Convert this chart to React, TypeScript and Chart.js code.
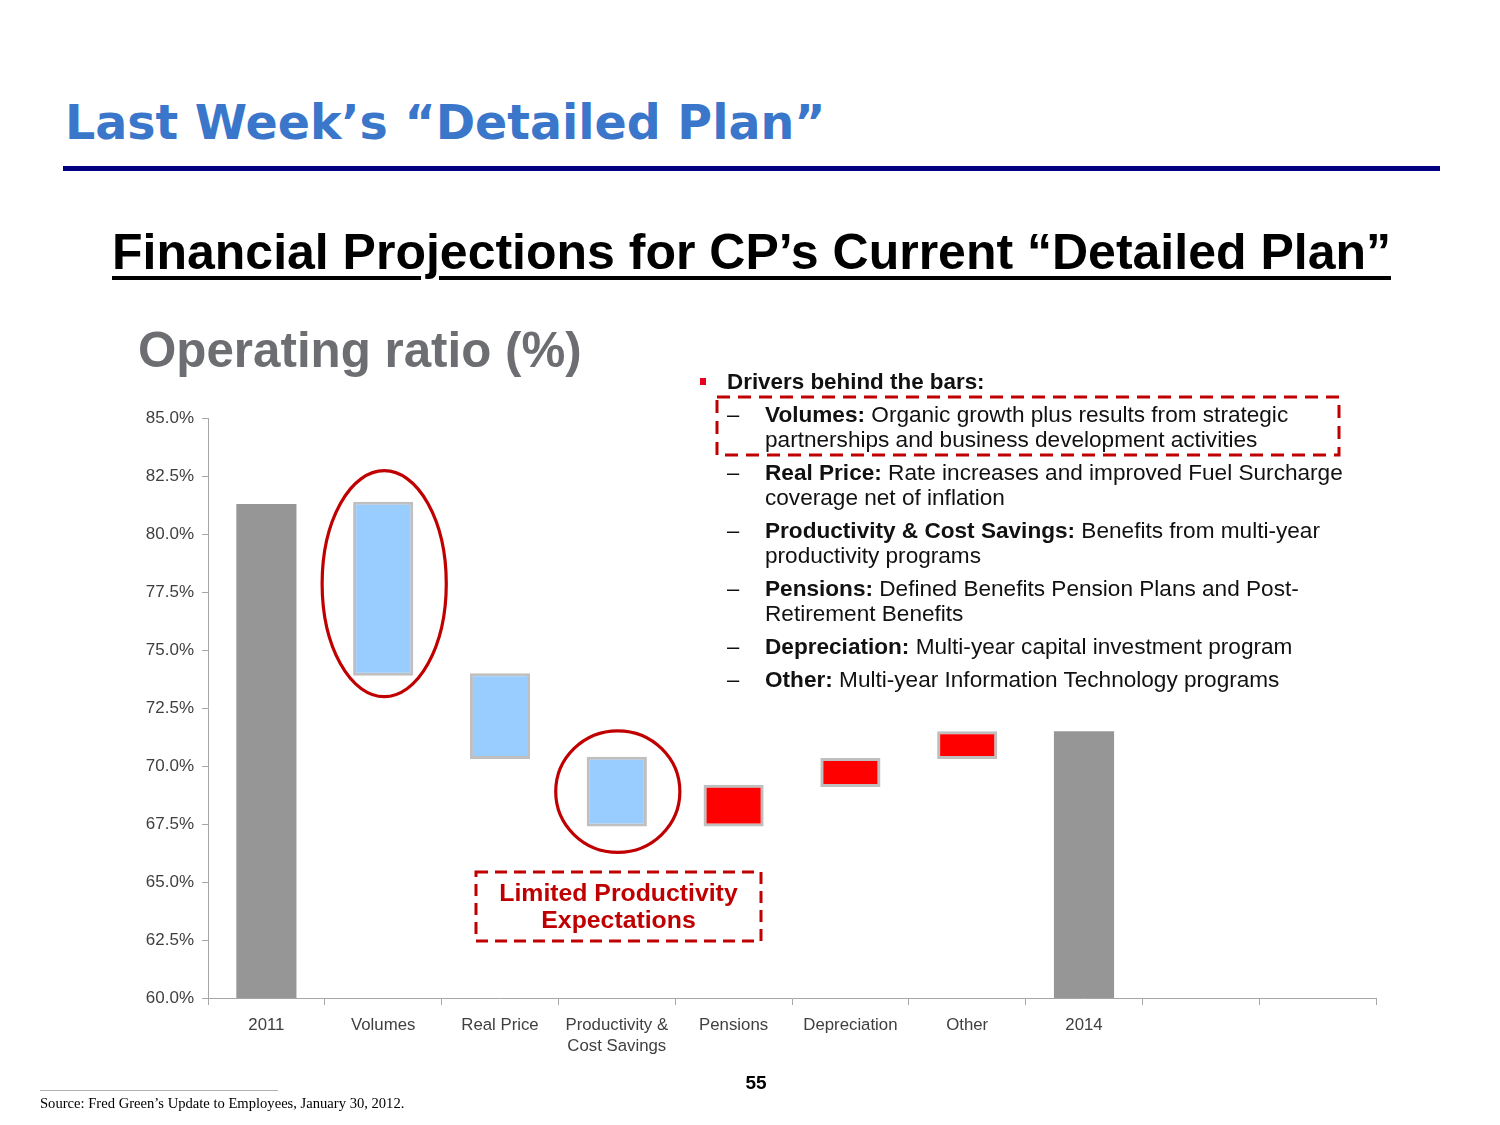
import React, { useEffect, useRef } from "react";
import { Chart, registerables } from "chart.js";

Chart.register(...registerables);

// ---- data ----
const categories: (string | string[])[] = [
  "2011",
  "Volumes",
  "Real Price",
  ["Productivity &", "Cost Savings"],
  "Pensions",
  "Depreciation",
  "Other",
  "2014",
  "",
  "",
];
const barLows: (number | null)[] = [60, 73.9, 70.3, 67.4, 67.4, 69.1, 70.3, 60, null, null];
const barHighs: (number | null)[] = [81.3, 81.4, 74.0, 70.4, 69.2, 70.35, 71.5, 71.5, null, null];
const barKinds: string[] = ["total", "down", "down", "down", "up", "up", "up", "total", "none", "none"];
const yTicksMin = 60;
const yTicksMax = 85;
const yTickStep = 2.5;
const circledCategories: number[] = [1, 3];

const FILL: Record<string, string> = {
  total: "#969696",
  down: "#99CCFF",
  up: "#FF0000",
  none: "rgba(0,0,0,0)",
};

const ellipsePlugin = {
  id: "ellipses",
  afterDatasetsDraw(chart: any) {
    const meta = chart.getDatasetMeta(0);
    const ctx = chart.ctx;
    ctx.save();
    ctx.strokeStyle = "#C00000";
    ctx.lineWidth = 3.2;
    circledCategories.forEach((i) => {
      const el = meta.data[i];
      if (!el) return;
      const p = el.getProps(["x", "y", "base", "width"], true);
      const top = Math.min(p.y, p.base);
      const bot = Math.max(p.y, p.base);
      const cy = (top + bot) / 2 - (i === 1 ? 5 : 0);
      const rx = p.width / 2 + 32;
      const ry = (bot - top) / 2 + 26;
      ctx.beginPath();
      ctx.ellipse(p.x + 1, cy, rx, ry, 0, 0, Math.PI * 2);
      ctx.stroke();
    });
    ctx.restore();
  },
};

function WaterfallChart() {
  const ref = useRef<HTMLCanvasElement | null>(null);
  useEffect(() => {
    if (!ref.current) return;
    const data = barLows.map((lo, i) =>
      lo === null || barHighs[i] === null ? null : [lo, barHighs[i] as number]
    );
    const axisColor = "#A6A6A6";
    const chart = new Chart(ref.current, {
      type: "bar",
      data: {
        labels: categories as any,
        datasets: [
          {
            data: data as any,
            backgroundColor: barKinds.map((k) => FILL[k]),
            borderColor: barKinds.map((k) => (k === "total" || k === "none" ? "rgba(0,0,0,0)" : "#BFBFBF")),
            borderWidth: barKinds.map((k) => (k === "total" || k === "none" ? 0 : 3)),
            borderSkipped: false,
            categoryPercentage: 1,
            barPercentage: 0.515,
          },
        ],
      },
      options: {
        animation: false,
        responsive: false,
        maintainAspectRatio: false,
        layout: { padding: { top: 17, right: 14, left: 0, bottom: 0 } },
        plugins: { legend: { display: false }, tooltip: { enabled: false }, title: { display: false } },
        scales: {
          x: {
            grid: { drawOnChartArea: false, drawTicks: true, tickLength: 7, color: axisColor, offset: true },
            border: { color: axisColor, width: 1 },
            ticks: {
              color: "#404040",
              font: { family: "'Liberation Sans', Arial, sans-serif", size: 16.8, lineHeight: 1.3 },
              padding: 9,
              maxRotation: 0,
              autoSkip: false,
            },
            afterFit: (s: any) => {
              s.height = 82;
            },
          },
          y: {
            min: yTicksMin,
            max: yTicksMax,
            grid: { drawOnChartArea: false, drawTicks: true, tickLength: 6, color: axisColor },
            border: { color: axisColor, width: 1 },
            ticks: {
              stepSize: yTickStep,
              color: "#404040",
              font: { family: "'Liberation Sans', Arial, sans-serif", size: 17 },
              padding: 8,
              callback: (v: any) => Number(v).toFixed(1) + "%",
            },
            afterFit: (s: any) => {
              s.width = 78;
            },
          },
        },
      } as any,
      plugins: [ellipsePlugin],
    });
    return () => chart.destroy();
  }, []);
  return (
    <canvas
      ref={ref}
      width={1260}
      height={680}
      style={{ position: "absolute", left: 130, top: 400, width: 1260, height: 680 }}
    />
  );
}

const drivers: { head: string; lines: string[]; top: number }[] = [
  { head: "Volumes:", lines: [" Organic growth plus results from strategic", "partnerships and business development activities"], top: 415 },
  { head: "Real Price:", lines: [" Rate increases and improved Fuel Surcharge", "coverage net of inflation"], top: 473 },
  { head: "Productivity & Cost Savings:", lines: [" Benefits from multi-year", "productivity programs"], top: 531 },
  { head: "Pensions:", lines: [" Defined Benefits Pension Plans and Post-", "Retirement Benefits"], top: 589 },
  { head: "Depreciation:", lines: [" Multi-year capital investment program"], top: 647 },
  { head: "Other:", lines: [" Multi-year Information Technology programs"], top: 680 },
];

const SANS = "'Liberation Sans', Arial, sans-serif";

export default function App() {
  return (
    <div
      style={{
        position: "absolute",
        left: 0,
        top: 0,
        width: 1500,
        height: 1125,
        background: "#fff",
        overflow: "hidden",
        fontFamily: SANS,
      }}
    >
      {/* Title */}
      <div
        style={{
          position: "absolute",
          left: 65,
          top: 93,
          fontFamily: "'DejaVu Sans', Verdana, sans-serif",
          fontWeight: 900,
          fontSize: 47.5,
          lineHeight: "60px",
          color: "#3A76CA",
          whiteSpace: "nowrap",
        }}
      >
        Last Week’s “Detailed Plan”
      </div>
      <div style={{ position: "absolute", left: 63, top: 166, width: 1377, height: 5, background: "#000080" }} />

      {/* Subtitle */}
      <div
        style={{
          position: "absolute",
          left: 0,
          width: 1500,
          textAlign: "center",
          top: 222,
          fontWeight: 700,
          fontSize: 50,
          lineHeight: "60px",
          color: "#000",
          textDecoration: "underline",
          textDecorationThickness: "4px",
          textUnderlineOffset: "7px",
          whiteSpace: "nowrap",
        }}
      >
        <span style={{ marginLeft: 3 }}>Financial Projections for CP’s Current “Detailed Plan”</span>
      </div>

      {/* Chart heading */}
      <div
        style={{
          position: "absolute",
          left: 138,
          top: 321,
          fontWeight: 700,
          fontSize: 49.3,
          lineHeight: "58px",
          color: "#6D6E71",
          whiteSpace: "nowrap",
        }}
      >
        Operating ratio (%)
      </div>

      <WaterfallChart />

      {/* Drivers text */}
      <div style={{ position: "absolute", left: 700, top: 378, width: 6, height: 7, background: "#E8001C" }} />
      <div
        style={{
          position: "absolute",
          left: 727,
          top: 369,
          fontWeight: 700,
          fontSize: 22.4,
          lineHeight: "26px",
          color: "#111",
          whiteSpace: "nowrap",
        }}
      >
        Drivers behind the bars:
      </div>
      {drivers.map((d, i) => (
        <div key={i} style={{ position: "absolute", left: 0, top: d.top - 13 }}>
          <div
            style={{ position: "absolute", left: 727, top: 0, fontSize: 22, lineHeight: "25px", color: "#111" }}
          >
            –
          </div>
          <div
            style={{
              position: "absolute",
              left: 765,
              top: 0,
              fontSize: 22.6,
              lineHeight: "25px",
              color: "#111",
              whiteSpace: "nowrap",
            }}
          >
            <span style={{ fontWeight: 700 }}>{d.head}</span>
            {d.lines[0]}
            {d.lines.slice(1).map((l, j) => (
              <div key={j}>{l}</div>
            ))}
          </div>
        </div>
      ))}

      {/* Dashed boxes */}
      <svg
        width={1500}
        height={1125}
        style={{ position: "absolute", left: 0, top: 0, pointerEvents: "none" }}
      >
        <rect x={717} y={397} width={622} height={58} fill="none" stroke="#C00000" strokeWidth={3} strokeDasharray="13 8" />
        <rect x={476} y={872} width={285} height={69} fill="none" stroke="#C00000" strokeWidth={3} strokeDasharray="12 7" />
        <line x1={40} y1={1090.5} x2={278} y2={1090.5} stroke="#B0B0B0" strokeWidth={1} />
      </svg>

      <div
        style={{
          position: "absolute",
          left: 476,
          width: 285,
          top: 879,
          textAlign: "center",
          fontWeight: 700,
          fontSize: 24.8,
          lineHeight: "27px",
          color: "#C00000",
        }}
      >
        Limited Productivity
        <br />
        Expectations
      </div>

      {/* Footer */}
      <div
        style={{
          position: "absolute",
          left: 700,
          width: 112,
          top: 1071,
          textAlign: "center",
          fontWeight: 700,
          fontSize: 19,
          lineHeight: "24px",
          color: "#000",
        }}
      >
        55
      </div>
      <div
        style={{
          position: "absolute",
          left: 40,
          top: 1095,
          fontFamily: "'Liberation Serif', 'Times New Roman', serif",
          fontSize: 14.6,
          lineHeight: "17px",
          color: "#000",
          whiteSpace: "nowrap",
        }}
      >
        Source: Fred Green’s Update to Employees, January 30, 2012.
      </div>
    </div>
  );
}
